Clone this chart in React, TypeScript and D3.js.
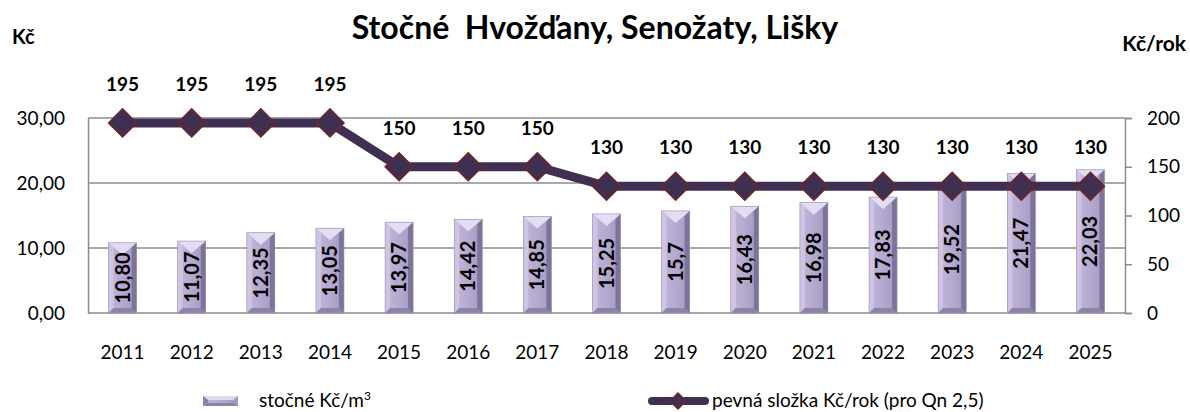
import React, { useRef, useEffect } from "react";
import * as d3 from "d3";

const years = ["2011", "2012", "2013", "2014", "2015", "2016", "2017", "2018", "2019", "2020", "2021", "2022", "2023", "2024", "2025"];
const stocne = [10.8, 11.07, 12.35, 13.05, 13.97, 14.42, 14.85, 15.25, 15.7, 16.43, 16.98, 17.83, 19.52, 21.47, 22.03];
const stocneLabels = ["10,80", "11,07", "12,35", "13,05", "13,97", "14,42", "14,85", "15,25", "15,7", "16,43", "16,98", "17,83", "19,52", "21,47", "22,03"];
const pevna = [195, 195, 195, 195, 150, 150, 150, 130, 130, 130, 130, 130, 130, 130, 130];
const leftTicks = [0, 10, 20, 30];
const rightTicks = [0, 50, 100, 150, 200];

const FONT = "Lato, 'Open Sans', sans-serif";
const LINE = "#3f3052";
const MARK_STROKE = "#6e2626";

export const StocneChart = () => {
    const svgRef = useRef<SVGSVGElement>(null);

    useEffect(() => {
        if (!svgRef.current) return;
        const svg = d3.select(svgRef.current);
        svg.selectAll("*").remove();

        const width = 1190;
        const height = 412;
        const margin = { top: 118, right: 65, bottom: 99, left: 88 };

        const x = d3
            .scaleBand()
            .domain(years)
            .range([margin.left, width - margin.right]);

        const yL = d3.scaleLinear().domain([0, 30]).range([height - margin.bottom, margin.top]);
        const yR = d3.scaleLinear().domain([0, 200]).range([height - margin.bottom, margin.top]);

        const cx = (i: number) => (x(years[i]) || 0) + x.bandwidth() / 2;
        const barW = 28;

        svg.attr("width", width).attr("height", height).style("font-family", FONT);

        // title and axis units
        svg.append("text")
            .attr("x", 595)
            .attr("y", 39)
            .attr("text-anchor", "middle")
            .attr("font-size", 32)
            .attr("font-weight", "bold")
            .style("white-space", "pre")
            .text("Stočné  Hvožďany, Senožaty, Lišky");
        svg.append("text").attr("x", 12).attr("y", 44).attr("font-size", 20).attr("font-weight", "bold").text("Kč");
        svg.append("text").attr("x", 1186).attr("y", 51).attr("text-anchor", "end").attr("font-size", 21).attr("font-weight", "bold").text("Kč/rok");

        // gridlines
        svg.append("g")
            .selectAll("line")
            .data(leftTicks)
            .join("line")
            .attr("x1", margin.left)
            .attr("x2", width - margin.right)
            .attr("y1", (d) => yL(d))
            .attr("y2", (d) => yL(d))
            .attr("stroke", "#8c8c8c")
            .attr("stroke-width", 1.5);

        // left axis
        const gl = svg.append("g").attr("transform", `translate(${margin.left},0)`);
        gl.call(d3.axisLeft(yL).tickValues(leftTicks).tickSize(0).tickPadding(23).tickFormat((d) => d3.format(".2f")(d as number).replace(".", ",")));
        gl.select(".domain").attr("stroke", "#8c8c8c").attr("stroke-width", 1.5);
        gl.selectAll("text").attr("font-size", 19).attr("font-family", FONT).attr("fill", "#000");

        // right axis
        const gr = svg.append("g").attr("transform", `translate(${width - margin.right},0)`);
        gr.call(d3.axisRight(yR).tickValues(rightTicks).tickSize(7).tickPadding(15));
        gr.select(".domain").attr("stroke", "#8c8c8c").attr("stroke-width", 1.5);
        gr.selectAll("line").attr("stroke", "#8c8c8c").attr("stroke-width", 1.5);
        gr.selectAll("text").attr("font-size", 19).attr("font-family", FONT).attr("fill", "#000");

        // x axis labels
        svg.append("g")
            .selectAll("text")
            .data(years)
            .join("text")
            .attr("x", (d, i) => cx(i))
            .attr("y", 359)
            .attr("text-anchor", "middle")
            .attr("font-size", 19)
            .text((d) => d);

        // bars with bevel
        const defs = svg.append("defs");
        const grad = defs.append("linearGradient").attr("id", "barGrad").attr("x1", 0).attr("x2", 1).attr("y1", 0).attr("y2", 0);
        grad.append("stop").attr("offset", "0%").attr("stop-color", "#c2b6da");
        grad.append("stop").attr("offset", "50%").attr("stop-color", "#b6a9cf");
        grad.append("stop").attr("offset", "100%").attr("stop-color", "#a498bf");

        const bars = svg.append("g");
        stocne.forEach((v, i) => {
            const x0 = cx(i) - barW / 2;
            const x1 = cx(i) + barW / 2;
            const top = yL(v);
            const bot = yL(0);
            const b = 5;
            const g = bars.append("g");
            g.append("rect").attr("x", x0).attr("y", top).attr("width", barW).attr("height", bot - top).attr("fill", "url(#barGrad)");
            // top bevel
            g.append("path").attr("d", `M${x0},${top}L${x1},${top}L${cx(i)},${top + 12}Z`).attr("fill", "#e4dcf2");
            g.append("path").attr("d", `M${x0},${top}L${cx(i)},${top + 12}L${x0 + b},${top + b}Z`).attr("fill", "#d3c8e6");
            // left bevel
            g.append("path").attr("d", `M${x0},${top}L${x0 + b},${top + b}L${x0 + b},${bot - b}L${x0},${bot}Z`).attr("fill", "#cfc4e4");
            // right bevel
            g.append("path").attr("d", `M${x1},${top}L${x1 - b},${top + b}L${x1 - b},${bot - b}L${x1},${bot}Z`).attr("fill", "#7e7398");
            // bottom bevel
            g.append("path").attr("d", `M${x0},${bot}L${x0 + b},${bot - b}L${x1 - b},${bot - b}L${x1},${bot}Z`).attr("fill", "#8d82a8");
            g.append("rect").attr("x", x0).attr("y", top).attr("width", barW).attr("height", bot - top).attr("fill", "none").attr("stroke", "#9a8fb5").attr("stroke-width", 0.6);
            g.append("text")
                .attr("transform", `translate(${cx(i) + 7},${(top + bot) / 2}) rotate(-90)`)
                .attr("text-anchor", "middle")
                .attr("font-size", 20)
                .attr("font-weight", "bold")
                .text(stocneLabels[i]);
        });

        // line series
        const line = d3
            .line<number>()
            .x((d, i) => cx(i))
            .y((d) => yR(d));
        svg.append("path")
            .datum(pevna)
            .attr("d", line)
            .attr("fill", "none")
            .attr("stroke", LINE)
            .attr("stroke-width", 9)
            .attr("stroke-linejoin", "round");

        const diamond = (px: number, py: number, r: number) => `M${px},${py - r}L${px + r},${py}L${px},${py + r}L${px - r},${py}Z`;
        svg.append("g")
            .selectAll("path")
            .data(pevna)
            .join("path")
            .attr("d", (d, i) => diamond(cx(i), yR(d), 14))
            .attr("fill", LINE)
            .attr("stroke", MARK_STROKE)
            .attr("stroke-width", 1.5);

        svg.append("g")
            .selectAll("text")
            .data(pevna)
            .join("text")
            .attr("x", (d, i) => cx(i))
            .attr("y", (d) => yR(d) - 32)
            .attr("text-anchor", "middle")
            .attr("font-size", 19)
            .attr("font-weight", "bold")
            .text((d) => d);

        // legend
        const lg = svg.append("g");
        const lx = 203, ly = 401, lw = 35;
        lg.append("rect").attr("x", lx).attr("y", ly - 5).attr("width", lw).attr("height", 10).attr("fill", "url(#barGrad)");
        lg.append("path").attr("d", `M${lx},${ly - 5}L${lx + lw},${ly - 5}L${lx + lw - 5},${ly - 1}L${lx + 5},${ly - 1}Z`).attr("fill", "#e0d8ef");
        lg.append("path").attr("d", `M${lx},${ly + 5}L${lx + lw},${ly + 5}L${lx + lw - 5},${ly + 2}L${lx + 5},${ly + 2}Z`).attr("fill", "#8d82a8");
        lg.append("path").attr("d", `M${lx},${ly - 5}L${lx + 5},${ly - 1}L${lx + 5},${ly + 2}L${lx},${ly + 5}Z`).attr("fill", "#8d82a8");
        const lt = lg.append("text").attr("x", 259).attr("y", 407).attr("font-size", 19);
        lt.append("tspan").text("stočné Kč/m");
        lt.append("tspan").attr("font-size", 12).attr("dy", -7).text("3");

        lg.append("line").attr("x1", 652).attr("x2", 705).attr("y1", 401).attr("y2", 401).attr("stroke", LINE).attr("stroke-width", 8).attr("stroke-linecap", "round");
        lg.append("path").attr("d", diamond(678, 401, 8)).attr("fill", LINE).attr("stroke", MARK_STROKE).attr("stroke-width", 1.5);
        lg.append("text").attr("x", 712).attr("y", 407).attr("font-size", 19).text("pevná složka Kč/rok (pro Qn 2,5)");
    }, []);

    return <svg ref={svgRef} style={{ display: "block" }} />;
};

export default function App() {
    return (
        <div style={{ position: "absolute", left: 0, top: 0, width: 1190, height: 412, overflow: "hidden" }}>
            <StocneChart />
        </div>
    );
}
